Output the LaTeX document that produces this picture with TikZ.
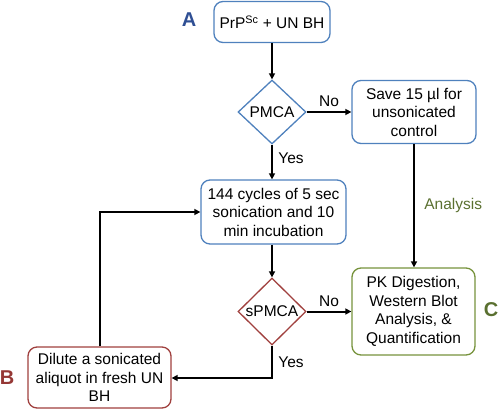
\documentclass[tikz,border=0pt]{standalone}
\usepackage{fontspec}
\setmainfont{Liberation Sans}
\usetikzlibrary{shapes.geometric,arrows.meta}
\definecolor{bblue}{HTML}{4F81BD}
\definecolor{bred}{HTML}{A0403E}
\definecolor{bgreen}{HTML}{77933C}
\definecolor{lblue}{HTML}{2F4F94}
\definecolor{lred}{HTML}{953735}
\definecolor{lgreen}{HTML}{5A7030}
\tikzset{
  procbox/.style={draw, rounded corners=9pt, line width=1.3pt, fill=white, align=center,
    inner sep=0pt, font=\fontsize{15.5}{18.5}\selectfont},
  decbox/.style={draw, shape=diamond, line width=1.3pt, fill=white, inner sep=0pt,
    font=\fontsize{15.5}{18.5}\selectfont},
  conn/.style={line width=2pt, -{Triangle[length=6pt,width=6pt]}},
  plainconn/.style={line width=2pt},
  edgelbl/.style={font=\fontsize{15.5}{18.5}\selectfont},
  letter/.style={font=\fontsize{20}{22}\selectfont\bfseries}
}
\begin{document}
\begin{tikzpicture}[x=1pt,y=-1pt]
\useasboundingbox (0,0) rectangle (500,413);
\node[procbox, draw=bblue, minimum width=116pt, minimum height=41pt] (a) at (272,22) {PrP\textsuperscript{Sc} + UN BH};
\node[decbox, draw=bblue, minimum width=68pt, minimum height=64pt, label=center:{\fontsize{15.5}{18.5}\selectfont PMCA}] (pmca) at (272,112) {};
\node[procbox, draw=bblue, minimum width=124pt, minimum height=63pt] (save) at (414,112) {Save 15 µl for\\unsonicated\\control};
\node[procbox, draw=bblue, minimum width=145pt, minimum height=64pt] (cyc) at (273.5,212) {144 cycles of 5 sec\\sonication and 10\\min incubation};
\node[decbox, draw=bred, minimum width=68pt, minimum height=67pt, label=center:{\fontsize{15.5}{18.5}\selectfont sPMCA}] (spmca) at (272,311.5) {};
\node[procbox, draw=bgreen, minimum width=123pt, minimum height=87pt] (pk) at (413.5,311.5) {PK Digestion,\\Western Blot\\Analysis, \&\\Quantification};
\node[procbox, draw=bred, minimum width=143pt, minimum height=61pt] (dil) at (99.5,377.5) {Dilute a sonicated\\aliquot in fresh UN\\BH};
\node[letter, text=lblue] (la) at (189,20) {A};
\node[letter, text=lred] (lb) at (7,378) {B};
\node[letter, text=lgreen] (lc) at (491,310) {C};
\coordinate (yescorner) at (272,378);
\coordinate (loopcorner) at (99.5,212);

\draw[conn] (a.south) -- (pmca.north);
\draw[conn] (pmca.east) -- node[edgelbl, above=1pt] (no1) {No} (save.west);
\draw[conn] (pmca.south) -- node[edgelbl, right=2pt, pos=0.4] (yes1) {Yes} (cyc.north -| pmca.south);
\draw[conn] (save.south) -- node[edgelbl, right=6pt, text=lgreen] (an) {Analysis} (pk.north -| save.south);
\draw[conn] (cyc.south -| spmca.north) -- (spmca.north);
\draw[conn] (spmca.east) -- node[edgelbl, above=1pt] (no2) {No} (pk.west);
\draw[conn] (spmca.south) -- node[edgelbl, right=2pt, pos=0.5] (yes2) {Yes} (yescorner) -- (dil.east |- yescorner);
\draw[conn] (dil.north) -- (loopcorner) -- (cyc.west);
\end{tikzpicture}
\end{document}
